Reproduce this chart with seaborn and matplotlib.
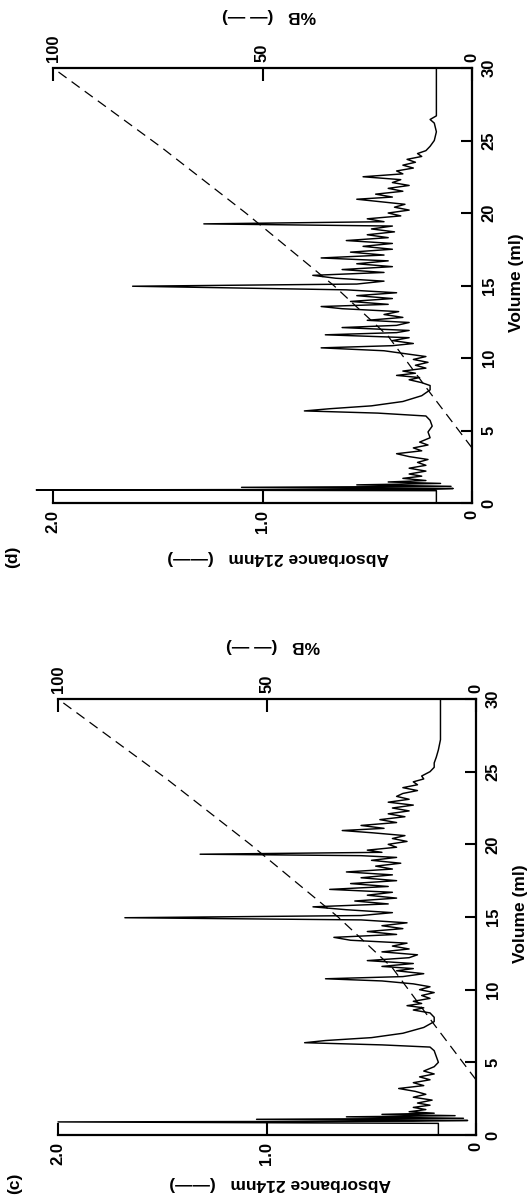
import numpy as np
import pandas as pd
import matplotlib
matplotlib.use("Agg")
import matplotlib.pyplot as plt
import seaborn as sns

sns.set_theme(style="white")
plt.rcParams['font.family'] = ['Liberation Sans', 'DejaVu Sans']

# ---------------- data ----------------
c_volume = [0.0, 0.7, 0.8, 0.9, 0.95, 1.0, 1.08, 1.15, 1.25, 1.33, 1.42, 1.5, 1.6, 1.75, 1.9, 2.05, 2.2, 2.4,
            2.6, 2.8, 3.0, 3.2, 3.4, 3.6, 3.8, 4.0, 4.2, 4.4, 4.7, 5.0, 5.4, 5.8, 6.05, 6.2, 6.35, 6.5, 6.7,
            7.0, 7.4, 7.8, 8.1, 8.4, 8.6, 8.75, 8.9, 9.05, 9.2, 9.4, 9.6, 9.8, 10.0, 10.2, 10.4, 10.6,
            10.75, 10.9, 11.1, 11.3, 11.45, 11.6, 11.8, 12.0, 12.2, 12.4, 12.6, 12.8, 13.0, 13.2, 13.4,
            13.6, 13.8, 14.0, 14.2, 14.4, 14.6, 14.8, 14.95, 15.1, 15.3, 15.5, 15.7, 15.9, 16.1, 16.3,
            16.5, 16.7, 16.9, 17.1, 17.3, 17.5, 17.7, 17.9, 18.1, 18.3, 18.5, 18.7, 18.9, 19.1, 19.22,
            19.32, 19.45, 19.6, 19.8, 20.0, 20.2, 20.4, 20.6, 20.8, 20.95, 21.1, 21.3, 21.5, 21.7, 21.9,
            22.1, 22.3, 22.5, 22.7, 22.9, 23.1, 23.3, 23.5, 23.7, 23.9, 24.1, 24.3, 24.5, 24.7, 25.0,
            25.3, 25.6, 26.0, 26.5, 27.2, 28.0, 30.0]
c_absorbance = [0.18, 0.18, 0.18, 2.0, 0.3, 0.04, 1.05, 0.06, 0.62, 0.1, 0.45, 0.2, 0.32, 0.24, 0.3, 0.22,
                0.28, 0.21, 0.3, 0.24, 0.29, 0.37, 0.25, 0.3, 0.22, 0.27, 0.2, 0.25, 0.2, 0.18, 0.19, 0.2,
                0.22, 0.45, 0.82, 0.72, 0.5, 0.35, 0.25, 0.2, 0.2, 0.22, 0.3, 0.25, 0.33, 0.26, 0.3, 0.22,
                0.26, 0.2, 0.27, 0.22, 0.3, 0.45, 0.72, 0.35, 0.25, 0.38, 0.3, 0.45, 0.3, 0.52, 0.32, 0.28,
                0.45, 0.32, 0.4, 0.33, 0.6, 0.68, 0.38, 0.52, 0.35, 0.45, 0.33, 0.55, 1.68, 0.55, 0.4,
                0.62, 0.78, 0.42, 0.58, 0.38, 0.52, 0.4, 0.7, 0.42, 0.6, 0.38, 0.55, 0.4, 0.62, 0.4, 0.48,
                0.36, 0.5, 0.38, 0.55, 1.32, 0.45, 0.52, 0.38, 0.42, 0.33, 0.4, 0.34, 0.5, 0.64, 0.44,
                0.55, 0.38, 0.46, 0.34, 0.42, 0.32, 0.4, 0.3, 0.42, 0.32, 0.38, 0.35, 0.28, 0.35, 0.28,
                0.3, 0.25, 0.26, 0.22, 0.2, 0.2, 0.19, 0.18, 0.17, 0.17, 0.17]

d_volume = [0.0, 0.7, 0.85, 0.9, 0.95, 1.0, 1.08, 1.15, 1.25, 1.35, 1.45, 1.55, 1.7, 1.85, 2.0, 2.2, 2.4,
            2.6, 2.8, 3.0, 3.2, 3.4, 3.6, 3.8, 4.0, 4.2, 4.5, 4.9, 5.3, 5.7, 6.0, 6.2, 6.35, 6.5, 6.7, 7.0,
            7.4, 7.8, 8.1, 8.3, 8.5, 8.65, 8.8, 8.95, 9.1, 9.3, 9.5, 9.7, 9.9, 10.1, 10.3, 10.5, 10.7,
            10.85, 11.0, 11.2, 11.4, 11.6, 11.75, 11.9, 12.1, 12.25, 12.45, 12.6, 12.8, 13.0, 13.2, 13.4,
            13.55, 13.7, 13.9, 14.1, 14.3, 14.5, 14.7, 14.95, 15.1, 15.3, 15.5, 15.7, 15.9, 16.1, 16.3,
            16.5, 16.7, 16.9, 17.1, 17.3, 17.5, 17.7, 17.9, 18.1, 18.3, 18.5, 18.7, 18.9, 19.1, 19.25,
            19.4, 19.6, 19.8, 20.0, 20.2, 20.4, 20.6, 20.8, 20.95, 21.1, 21.3, 21.5, 21.7, 21.9, 22.1,
            22.3, 22.5, 22.7, 22.9, 23.1, 23.3, 23.5, 23.7, 23.9, 24.1, 24.3, 24.6, 25.0, 25.6, 26.2,
            26.45, 26.7, 27.5, 28.5, 30.0]
d_absorbance = [0.17, 0.17, 0.17, 2.08, 0.2, 0.09, 1.1, 0.1, 0.55, 0.15, 0.4, 0.22, 0.33, 0.24, 0.3, 0.22,
                0.3, 0.22, 0.26, 0.21, 0.3, 0.36, 0.24, 0.28, 0.21, 0.25, 0.2, 0.21, 0.19, 0.2, 0.22,
                0.45, 0.8, 0.68, 0.48, 0.33, 0.24, 0.2, 0.2, 0.24, 0.3, 0.25, 0.36, 0.27, 0.33, 0.22,
                0.27, 0.21, 0.28, 0.22, 0.32, 0.42, 0.72, 0.38, 0.28, 0.38, 0.3, 0.7, 0.36, 0.3, 0.62,
                0.36, 0.3, 0.5, 0.33, 0.42, 0.35, 0.62, 0.72, 0.4, 0.58, 0.38, 0.55, 0.36, 0.6, 1.62,
                0.55, 0.42, 0.65, 0.76, 0.42, 0.62, 0.38, 0.55, 0.4, 0.72, 0.42, 0.58, 0.38, 0.52, 0.38,
                0.6, 0.4, 0.5, 0.37, 0.48, 0.38, 1.28, 0.42, 0.5, 0.34, 0.4, 0.3, 0.37, 0.32, 0.45, 0.55,
                0.38, 0.46, 0.33, 0.4, 0.3, 0.38, 0.34, 0.52, 0.33, 0.36, 0.28, 0.33, 0.27, 0.31, 0.24,
                0.26, 0.22, 0.2, 0.18, 0.17, 0.18, 0.2, 0.17, 0.17, 0.17, 0.17]

gradient_volume = [3.8, 7.6, 11.5, 15.0, 20.0, 24.5, 30.0]
gradient_b = [0.0, 10.0, 20.0, 33.0, 54.0, 74.0, 100.0]

volume_ticks = [0, 5, 10, 15, 20, 25, 30]
abs_ticks = [0.0, 1.0, 2.0]
abs_tick_labels = ["0", "1.0", "2.0"]
b_ticks = [0, 50, 100]
b_tick_labels = ["0", "50", "100"]

volume_label = "Volume (ml)"
abs_label = "Absorbance 214nm   (——)"
b_label = "%B   (— —)"

# ---------------- figure ----------------
W, H = 527, 1203
fig = plt.figure(figsize=(W / 100, H / 100), dpi=100)
AMAX = 2.15
FS = 12
LFS = 12.5

panels = [
    dict(name="(d)", vol=d_volume, A=d_absorbance, right=472, a2=53, y0=503, y30=68,
         vlab=(517, 283), alab=(278, 557), blab=(269, 15), plab=(13, 557)),
    dict(name="(c)", vol=c_volume, A=c_absorbance, right=476, a2=58, y0=1135, y30=699,
         vlab=(520, 914), alab=(280, 1183), blab=(273, 646), plab=(15, 1183)),
]

for p in panels:
    pxu = (p["right"] - p["a2"]) / 2.0
    left = p["right"] - AMAX * pxu
    ax = fig.add_axes([left / W, 1 - p["y0"] / H, (p["right"] - left) / W, (p["y0"] - p["y30"]) / H])
    df = pd.DataFrame({"volume": p["vol"], "absorbance": p["A"]})
    sns.lineplot(data=df, x="absorbance", y="volume", sort=False, estimator=None, orient="y",
                 color="black", lw=1.05, ax=ax)
    ax.set_xlim(AMAX, 0)
    ax.set_ylim(0, 30)
    ax.set_xlabel("")
    ax.set_ylabel("")
    ax.patch.set_visible(False)
    for s in ["left", "top"]:
        ax.spines[s].set_visible(False)
    for s in ["right", "bottom"]:
        ax.spines[s].set_color("black")
        ax.spines[s].set_linewidth(1.6)
    ax.spines["right"].set_bounds(0, 30)
    ax.spines["bottom"].set_bounds(0, 2.0)
    ax.yaxis.tick_right()
    ax.set_yticks(volume_ticks)
    ax.set_yticklabels([str(v) for v in volume_ticks], rotation=90, va="center", fontweight="bold")
    ax.tick_params(axis="y", direction="in", length=8, width=1.5, pad=7, labelsize=FS,
                   right=True, left=False, labelright=True, labelleft=False, colors="black")
    ax.set_xticks(abs_ticks)
    ax.set_xticklabels(abs_tick_labels, rotation=90, fontweight="bold")
    ax.tick_params(axis="x", direction="in", length=9, width=1.5, pad=5, labelsize=FS,
                   bottom=True, top=False, colors="black")

    ax2 = ax.twiny()
    gdf = pd.DataFrame({"volume": gradient_volume, "B": gradient_b})
    sns.lineplot(data=gdf, x="B", y="volume", sort=False, estimator=None, orient="y",
                 color="black", lw=0.9, linestyle=(0, (8, 5)), ax=ax2)
    ax2.set_xlim(AMAX * 50, 0)
    ax2.set_ylim(0, 30)
    ax2.set_xlabel("")
    ax2.set_ylabel("")
    for s in ["left", "right", "bottom"]:
        ax2.spines[s].set_visible(False)
    ax2.spines["top"].set_color("black")
    ax2.spines["top"].set_linewidth(1.6)
    ax2.spines["top"].set_bounds(0, 100)
    ax2.set_xticks(b_ticks)
    ax2.set_xticklabels(b_tick_labels, rotation=90, fontweight="bold")
    ax2.tick_params(axis="x", direction="in", length=9, width=1.5, pad=4, labelsize=FS,
                    top=True, bottom=False, colors="black")
    ax2.tick_params(axis="y", left=False, right=False, labelleft=False, labelright=False)

    kw = dict(ha="center", va="center", fontsize=LFS, fontweight="bold", color="black")
    fig.text(p["vlab"][0] / W, 1 - p["vlab"][1] / H, volume_label, rotation=90, **kw)
    fig.text(p["alab"][0] / W, 1 - p["alab"][1] / H, abs_label, rotation=180, **kw)
    fig.text(p["blab"][0] / W, 1 - p["blab"][1] / H, b_label, rotation=180, **kw)
    fig.text(p["plab"][0] / W, 1 - p["plab"][1] / H, p["name"], rotation=90, **kw)

fig.savefig("out.png", dpi=100, facecolor="white")
